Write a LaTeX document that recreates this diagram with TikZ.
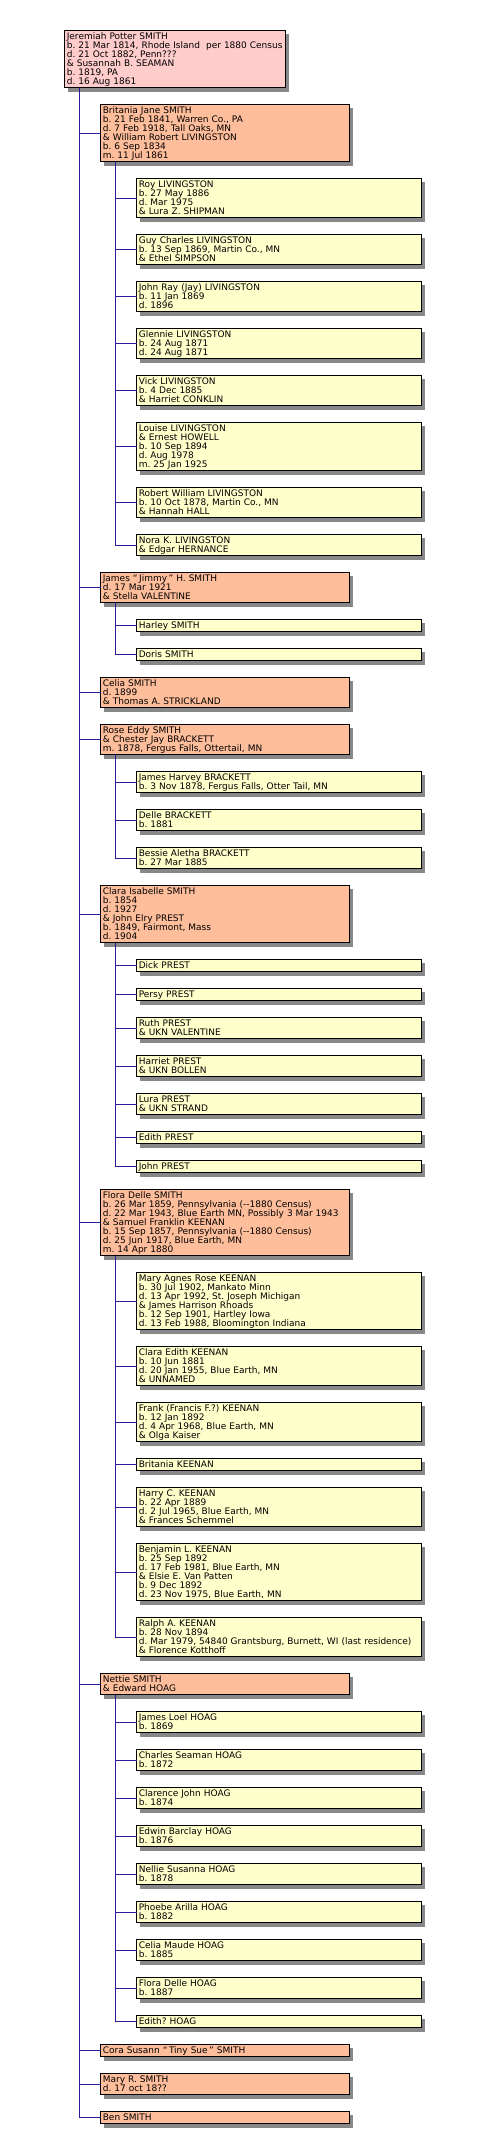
\documentclass[tikz,border=0pt]{standalone}
\usepackage{fontspec}
\newfontfamily\dv{DejaVu Sans}
\usetikzlibrary{shadows}
\definecolor{pinkfill}{RGB}{255,204,204}
\definecolor{salmonfill}{RGB}{255,190,155}
\definecolor{yellowfill}{RGB}{255,255,204}
\definecolor{shadowgray}{RGB}{136,136,136}
\definecolor{connblue}{RGB}{43,27,155}
\newcommand\bstrut{\rule{0pt}{7pt}}
\newcommand\estrut{\rule[-2.5pt]{0pt}{2.5pt}}
\tikzset{
  box/.style={draw=black, line width=1pt, inner xsep=2pt, inner ysep=1.25pt, outer sep=0pt,
    anchor=north west, align=left,
    font={\dv\fontsize{9}{9}\selectfont\lineskiplimit=-10pt\frenchspacing},
    general shadow={shadow xshift=3.3pt, shadow yshift=-3.3pt, fill=shadowgray, draw=shadowgray, line width=1pt},
    execute at begin node=\bstrut, execute at end node=\estrut},
  lv0/.style={box, fill=pinkfill, text width=216.4pt},
  lv1/.style={box, fill=salmonfill, text width=244.4pt},
  lv2/.style={box, fill=yellowfill, text width=280.4pt},
  conn/.style={draw=connblue, line width=1pt},
}
\begin{document}
\begin{tikzpicture}[x=1pt,y=-1pt]
\fill[white] (0,0) rectangle (492,2141);
\useasboundingbox (0,0) rectangle (492,2141);
% generation 0
\node[lv0] (root) at (64.8,30.8) {Jeremiah Potter SMITH\\b. 21 Mar 1814, Rhode Island\ \ per 1880 Census\\d. 21 Oct 1882, Penn???\\\& Susannah B. SEAMAN\\b. 1819, PA\\d. 16 Aug 1861};
% Britania
\node[lv1] (brit) at (100.8,104.8) {Britania Jane SMITH\\b. 21 Feb 1841, Warren Co., PA\\d. 7 Feb 1918, Tall Oaks, MN\\\& William Robert LIVINGSTON\\b. 6 Sep 1834\\m. 11 Jul 1861};
\node[lv2] (roy) at (136.8,178.8) {Roy LIVINGSTON\\b. 27 May 1886\\d. Mar 1975\\\& Lura Z. SHIPMAN};
\node[lv2] (guy) at (136.8,234.8) {Guy Charles LIVINGSTON\\b. 13 Sep 1869, Martin Co., MN\\\& Ethel SIMPSON};
\node[lv2] (johnray) at (136.8,281.8) {John Ray (Jay) LIVINGSTON\\b. 11 Jan 1869\\d. 1896};
\node[lv2] (glennie) at (136.8,328.8) {Glennie LIVINGSTON\\b. 24 Aug 1871\\d. 24 Aug 1871};
\node[lv2] (vick) at (136.8,375.8) {Vick LIVINGSTON\\b. 4 Dec 1885\\\& Harriet CONKLIN};
\node[lv2] (louise) at (136.8,422.8) {Louise LIVINGSTON\\\& Ernest HOWELL\\b. 10 Sep 1894\\d. Aug 1978\\m. 25 Jan 1925};
\node[lv2] (robert) at (136.8,487.8) {Robert William LIVINGSTON\\b. 10 Oct 1878, Martin Co., MN\\\& Hannah HALL};
\node[lv2] (nora) at (136.8,534.8) {Nora K. LIVINGSTON\\\& Edgar HERNANCE};
% James
\node[lv1] (jimmy) at (100.8,572.8) {James “\,Jimmy\,” H. SMITH\\d. 17 Mar 1921\\\& Stella VALENTINE};
\node[lv2] (harley) at (136.8,619.8) {Harley SMITH};
\node[lv2] (doris) at (136.8,648.8) {Doris SMITH};
% Celia
\node[lv1] (celia) at (100.8,677.8) {Celia SMITH\\d. 1899\\\& Thomas A. STRICKLAND};
% Rose
\node[lv1] (rose) at (100.8,724.8) {Rose Eddy SMITH\\\& Chester Jay BRACKETT\\m. 1878, Fergus Falls, Ottertail, MN};
\node[lv2] (jharvey) at (136.8,771.8) {James Harvey BRACKETT\\b. 3 Nov 1878, Fergus Falls, Otter Tail, MN};
\node[lv2] (delle) at (136.8,809.8) {Delle BRACKETT\\b. 1881};
\node[lv2] (bessie) at (136.8,847.8) {Bessie Aletha BRACKETT\\b. 27 Mar 1885};
% Clara
\node[lv1] (clara) at (100.8,885.8) {Clara Isabelle SMITH\\b. 1854\\d. 1927\\\& John Elry PREST\\b. 1849, Fairmont, Mass\\d. 1904};
\node[lv2] (dick) at (136.8,959.8) {Dick PREST};
\node[lv2] (persy) at (136.8,988.8) {Persy PREST};
\node[lv2] (ruth) at (136.8,1017.8) {Ruth PREST\\\& UKN VALENTINE};
\node[lv2] (harriet) at (136.8,1055.8) {Harriet PREST\\\& UKN BOLLEN};
\node[lv2] (lura) at (136.8,1093.8) {Lura PREST\\\& UKN STRAND};
\node[lv2] (edith) at (136.8,1131.8) {Edith PREST};
\node[lv2] (johnp) at (136.8,1160.8) {John PREST};
% Flora
\node[lv1] (flora) at (100.8,1189.8) {Flora Delle SMITH\\b. 26 Mar 1859, Pennsylvania (-{}-1880 Census)\\d. 22 Mar 1943, Blue Earth MN, Possibly 3 Mar 1943\\\& Samuel Franklin KEENAN\\b. 15 Sep 1857, Pennsylvania (-{}-1880 Census)\\d. 25 Jun 1917, Blue Earth, MN\\m. 14 Apr 1880};
\node[lv2] (marya) at (136.8,1272.8) {Mary Agnes Rose KEENAN\\b. 30 Jul 1902, Mankato Minn\\d. 13 Apr 1992, St. Joseph Michigan\\\& James Harrison Rhoads\\b. 12 Sep 1901, Hartley Iowa\\d. 13 Feb 1988, Bloomington Indiana};
\node[lv2] (clarae) at (136.8,1346.8) {Clara Edith KEENAN\\b. 10 Jun 1881\\d. 20 Jan 1955, Blue Earth, MN\\\& UNNAMED};
\node[lv2] (frank) at (136.8,1402.8) {Frank (Francis F.?) KEENAN\\b. 12 Jan 1892\\d. 4 Apr 1968, Blue Earth, MN\\\& Olga Kaiser};
\node[lv2] (britk) at (136.8,1458.8) {Britania KEENAN};
\node[lv2] (harry) at (136.8,1487.8) {Harry C. KEENAN\\b. 22 Apr 1889\\d. 2 Jul 1965, Blue Earth, MN\\\& Frances Schemmel};
\node[lv2] (benj) at (136.8,1543.8) {Benjamin L. KEENAN\\b. 25 Sep 1892\\d. 17 Feb 1981, Blue Earth, MN\\\& Elsie E. Van Patten\\b. 9 Dec 1892\\d. 23 Nov 1975, Blue Earth, MN};
\node[lv2] (ralph) at (136.8,1617.8) {Ralph A. KEENAN\\b. 28 Nov 1894\\d. Mar 1979, 54840 Grantsburg, Burnett, WI (last residence)\\\& Florence Kotthoff};
% Nettie
\node[lv1] (nettie) at (100.8,1673.8) {Nettie SMITH\\\& Edward HOAG};
\node[lv2] (jloel) at (136.8,1711.8) {James Loel HOAG\\b. 1869};
\node[lv2] (charles) at (136.8,1749.8) {Charles Seaman HOAG\\b. 1872};
\node[lv2] (clarence) at (136.8,1787.8) {Clarence John HOAG\\b. 1874};
\node[lv2] (edwin) at (136.8,1825.8) {Edwin Barclay HOAG\\b. 1876};
\node[lv2] (nellie) at (136.8,1863.8) {Nellie Susanna HOAG\\b. 1878};
\node[lv2] (phoebe) at (136.8,1901.8) {Phoebe Arilla HOAG\\b. 1882};
\node[lv2] (celiam) at (136.8,1939.8) {Celia Maude HOAG\\b. 1885};
\node[lv2] (florah) at (136.8,1977.8) {Flora Delle HOAG\\b. 1887};
\node[lv2] (edithh) at (136.8,2015.8) {Edith? HOAG};
% last children
\node[lv1] (cora) at (100.8,2044.8) {Cora Susann “\,Tiny Sue\,” SMITH};
\node[lv1] (maryr) at (100.8,2073.8) {Mary R. SMITH\\d. 17 oct 18??};
\node[lv1] (ben) at (100.8,2111.8) {Ben SMITH};
% connectors
\foreach \c in {brit,jimmy,celia,rose,clara,flora,nettie,cora,maryr,ben}
  \draw[conn] (root.south west) ++(14.7pt,0) |- (\c.west);
\foreach \c in {roy,guy,johnray,glennie,vick,louise,robert,nora}
  \draw[conn] (brit.south west) ++(14.7pt,0) |- (\c.west);
\foreach \c in {harley,doris}
  \draw[conn] (jimmy.south west) ++(14.7pt,0) |- (\c.west);
\foreach \c in {jharvey,delle,bessie}
  \draw[conn] (rose.south west) ++(14.7pt,0) |- (\c.west);
\foreach \c in {dick,persy,ruth,harriet,lura,edith,johnp}
  \draw[conn] (clara.south west) ++(14.7pt,0) |- (\c.west);
\foreach \c in {marya,clarae,frank,britk,harry,benj,ralph}
  \draw[conn] (flora.south west) ++(14.7pt,0) |- (\c.west);
\foreach \c in {jloel,charles,clarence,edwin,nellie,phoebe,celiam,florah,edithh}
  \draw[conn] (nettie.south west) ++(14.7pt,0) |- (\c.west);
\end{tikzpicture}
\end{document}
